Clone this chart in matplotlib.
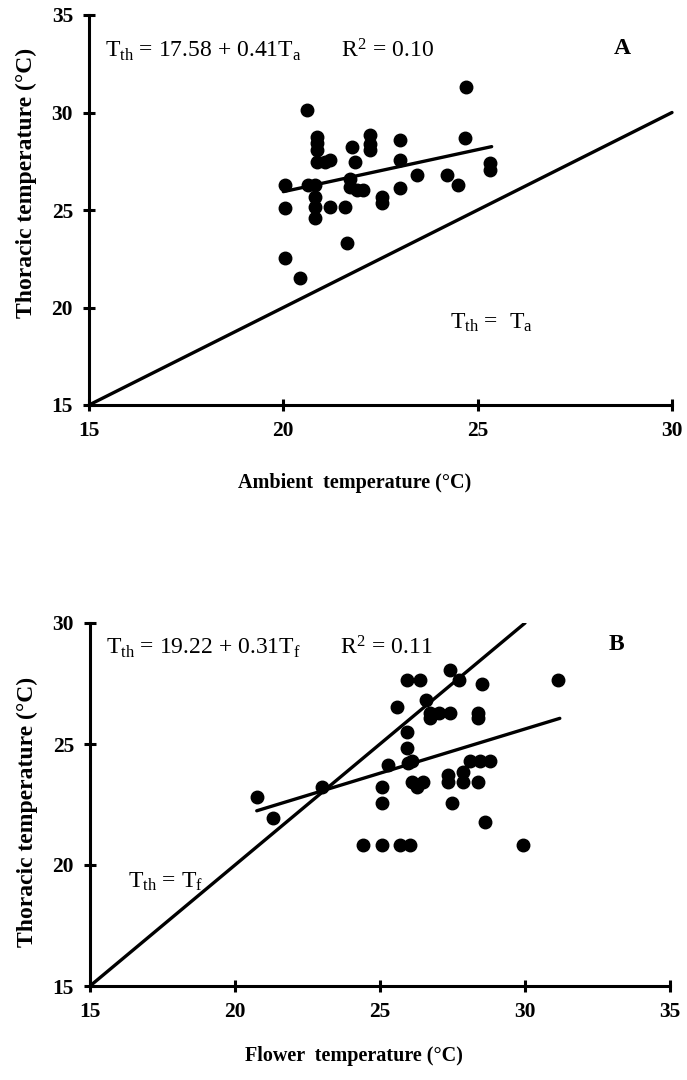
import matplotlib
matplotlib.use("Agg")
import matplotlib.pyplot as plt
import numpy as np

plt.rcParams['font.family'] = ['Liberation Serif', 'DejaVu Serif']
plt.rcParams['mathtext.fontset'] = 'custom'
plt.rcParams['mathtext.rm'] = 'Liberation Serif'
plt.rcParams['mathtext.it'] = 'Liberation Serif'
plt.rcParams['mathtext.bf'] = 'Liberation Serif:bold'

# Panel A: ambient temperature vs thoracic temperature
ambient_x = [24.70, 20.62, 20.86, 20.86, 20.86, 20.86, 21.07, 21.20, 21.76, 22.23,
             22.23, 22.23, 21.84, 20.04, 20.04, 20.64, 20.81, 20.81, 20.81, 20.81,
             21.20, 21.59, 21.71, 21.89, 22.05, 22.53, 22.53, 23.00, 24.67, 23.00,
             23.43, 23.00, 24.20, 24.50, 25.32, 25.32, 21.63, 20.04, 20.43, 21.71]
thoracic_a = [31.29, 30.13, 28.76, 28.42, 28.08, 27.48, 27.48, 27.56, 28.25, 28.85,
              28.40, 28.10, 27.48, 26.28, 25.09, 26.28, 26.28, 25.68, 25.17, 24.57,
              25.17, 25.17, 26.20, 26.03, 26.03, 25.68, 25.34, 28.59, 28.68, 27.56,
              26.80, 26.11, 26.80, 26.28, 27.39, 27.05, 23.30, 22.52, 21.50, 26.60]
fit_a_x = [20.0, 25.36]
fit_a_y = [25.94, 28.25]
ident_a = [15, 30]

# Panel B: flower temperature vs thoracic temperature
flower_x = [27.41, 25.92, 26.38, 27.74, 28.50, 31.15, 25.58, 26.60, 26.72, 27.05,
            27.41, 26.72, 28.39, 28.39, 25.92, 25.92, 25.29, 25.98, 26.10, 28.10,
            28.45, 28.80, 27.36, 27.36, 27.87, 27.87, 28.39, 26.09, 26.26, 26.49,
            25.06, 22.99, 20.75, 21.32, 25.06, 27.47, 28.62, 24.43, 25.06, 25.69,
            26.03, 29.94]
thoracic_b = [28.06, 27.64, 27.64, 27.64, 27.48, 27.64, 26.52, 26.80, 26.28, 26.28,
              26.28, 26.07, 26.28, 26.07, 25.50, 24.82, 24.13, 24.20, 24.30, 24.30,
              24.30, 24.30, 23.72, 23.44, 23.86, 23.44, 23.44, 23.44, 23.24, 23.44,
              23.24, 23.24, 22.82, 21.93, 22.55, 22.55, 21.79, 20.83, 20.83, 20.83,
              20.83, 20.83]
fit_b_x = [20.75, 31.2]
fit_b_y = [22.24, 26.06]
ident_b = [15, 30]

W, H = 687, 1080
fig = plt.figure(figsize=(W / 100, H / 100), dpi=100)

def setup(ax, xlim, ylim, xticks, yticks, xlabel, xlab_y, ylab_y):
    ax.set_xlim(*xlim)
    ax.set_ylim(*ylim)
    ax.set_xticks(xticks)
    ax.set_yticks(yticks)
    for s in ['top', 'right']:
        ax.spines[s].set_visible(False)
    for s in ['left', 'bottom']:
        ax.spines[s].set_linewidth(2.2)
    ax.tick_params(direction='inout', length=9, width=2.2, labelsize=15.5, pad=7)
    for lab in ax.get_xticklabels() + ax.get_yticklabels():
        lab.set_fontweight('bold')
    ax.set_xlabel(xlabel, fontsize=14.5, fontweight='bold')
    ax.xaxis.set_label_coords(0.455, xlab_y)
    ax.set_ylabel('Thoracic temperature (°C)', fontsize=17, fontweight='bold')
    ax.yaxis.set_label_coords(-0.09, ylab_y)
    for sp in ax.spines.values():
        sp.set_clip_on(False)

axA = fig.add_axes([89 / W, 1 - 405 / H, (672 - 89) / W, (405 - 15) / H])
setup(axA, (15, 30), (15, 35), [15, 20, 25, 30], [15, 20, 25, 30, 35],
      'Ambient  temperature (°C)', -0.175, 0.57)
axA.plot(ident_a, ident_a, color='black', lw=2.4, solid_capstyle='round', clip_on=False)
axA.plot(fit_a_x, fit_a_y, color='black', lw=2.4, solid_capstyle='round')
axA.plot(ambient_x, thoracic_a, 'o', color='black', markersize=9, clip_on=False)
axA.text(0.027, 0.91, r'T$_{\rm th}$ = 17.58 + 0.41T$_{\rm a}$       R$^{\rm 2}$ = 0.10',
         transform=axA.transAxes, fontsize=17, va='center', ha='left')
axA.text(0.90, 0.915, 'A', transform=axA.transAxes, fontsize=17, fontweight='bold',
         va='center', ha='left')
axA.text(24.3, 19.2, r'T$_{\rm th}$ =  T$_{\rm a}$', fontsize=17, va='center', ha='left')

axB = fig.add_axes([90 / W, 1 - 986 / H, (670 - 90) / W, (986 - 623) / H])
setup(axB, (15, 35), (15, 30), [15, 20, 25, 30, 35], [15, 20, 25, 30],
      'Flower  temperature (°C)', -0.165, 0.48)
axB.plot(ident_b, ident_b, color='black', lw=2.4, solid_capstyle='round')
axB.plot(fit_b_x, fit_b_y, color='black', lw=2.4, solid_capstyle='round')
axB.plot(flower_x, thoracic_b, 'o', color='black', markersize=9, clip_on=False)
axB.text(0.027, 0.935, r'T$_{\rm th}$ = 19.22 + 0.31T$_{\rm f}$       R$^{\rm 2}$ = 0.11',
         transform=axB.transAxes, fontsize=17, va='center', ha='left')
axB.text(0.895, 0.94, 'B', transform=axB.transAxes, fontsize=17, fontweight='bold',
         va='center', ha='left')
axB.text(16.3, 19.3, r'T$_{\rm th}$ = T$_{\rm f}$', fontsize=17, va='center', ha='left')

fig.savefig('out.png', dpi=100)
